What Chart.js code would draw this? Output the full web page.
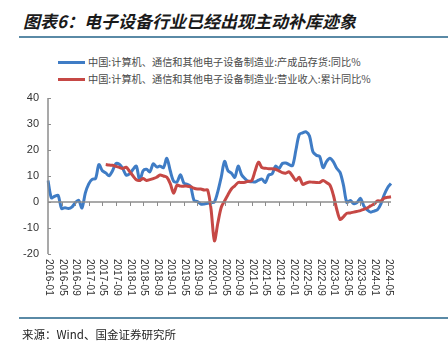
<!DOCTYPE html>
<html><head><meta charset="utf-8">
<script src="https://cdn.jsdelivr.net/npm/chart.js@4/dist/chart.umd.min.js"></script>
<style>
html,body{margin:0;padding:0;background:#fff;width:448px;height:351px;overflow:hidden;}
#wrap{position:relative;width:448px;height:351px;}
#title{position:absolute;left:23px;top:10px;font-family:"Noto Sans CJK SC";font-weight:bold;font-style:italic;font-size:17px;color:#1a1a1a;white-space:nowrap;line-height:22px;}
.rule{position:absolute;left:19px;width:429px;height:2px;background:#5a8aa6;}
#source{position:absolute;left:22px;top:326px;font-family:"Noto Sans CJK SC";font-size:11.5px;color:#222;white-space:nowrap;line-height:16px;}
.leg{position:absolute;left:58px;font-family:"Noto Sans CJK SC";font-size:10.2px;color:#4a4a4a;white-space:nowrap;line-height:14px;}
.leg span.sw{display:inline-block;width:27px;height:3px;vertical-align:middle;margin-right:3px;position:relative;top:-1px;}
canvas{position:absolute;left:0;top:0;}
</style></head>
<body><div id="wrap">
<div id="title">图表6：电子设备行业已经出现主动补库迹象</div>
<div class="rule" style="top:36px"></div>
<div class="leg" style="top:55px"><span class="sw" style="background:#3f7cc5"></span>中国:计算机、通信和其他电子设备制造业:产成品存货:同比%</div>
<div class="leg" style="top:72px"><span class="sw" style="background:#c64845"></span>中国:计算机、通信和其他电子设备制造业:营业收入:累计同比%</div>
<canvas id="c" width="448" height="351"></canvas>
<div class="rule" style="top:317px"></div>
<div id="source">来源：Wind、国金证券研究所</div>
</div>
<script>
const seriesNames = ["中国:计算机、通信和其他电子设备制造业:产成品存货:同比%","中国:计算机、通信和其他电子设备制造业:营业收入:累计同比%"];
const months = [];
for (let y = 2016; y <= 2024; y++) for (let m = 1; m <= 12; m++) { if (y === 2024 && m > 6) break; months.push(y + "-" + String(m).padStart(2, "0")); }
const yTicks = [-20,-10,0,10,20,30,40];
const inventoryYoY = [8.3,1.6,2.2,2.5,-2.5,-2.2,-2.5,-2.0,-0.3,0.7,-2.3,3.5,
 7.0,8.7,9.0,14.4,12.0,11.2,10.1,12.0,14.8,14.5,12.9,10.4,
 10.8,12.5,13.8,8.3,12.0,12.6,11.6,14.7,13.5,13.8,13.2,16.8,
 12.0,8.0,7.7,10.5,7.3,6.8,5.9,0.6,0.2,-0.8,-0.8,-0.5,
 -0.2,0.0,4.0,9.5,15.6,12.0,11.1,9.5,13.8,10.5,9.0,7.9,
 7.8,7.7,8.4,8.8,7.5,10.4,10.8,13.8,12.8,14.8,15.0,14.4,
 14.0,20.0,26.0,26.6,27.0,25.4,19.3,18.0,17.5,13.2,15.5,16.8,
 15.5,13.0,11.4,6.5,-0.2,0.6,-0.6,-0.2,1.4,-1.5,-3.0,-3.9,
 -3.5,-3.0,-0.8,2.8,5.5,7.1];
const revenueCumYoY = [null,null,null,null,null,null,null,null,null,null,null,null,
 null,null,null,null,null,14.4,14.2,14.1,13.7,13.3,12.9,13.4,
 11.8,10.1,8.6,8.3,9.0,8.3,8.6,9.0,9.5,10.4,10.0,9.5,
 7.1,3.4,6.5,6.1,6.1,6.1,5.9,5.3,5.0,5.0,4.6,4.6,
 -2.7,-14.9,-8.2,-2.1,0.4,2.8,5.0,6.2,7.5,7.5,7.6,8.0,
 8.2,12.0,15.3,13.2,13.0,12.8,12.8,12.6,12.0,11.3,11.1,11.6,
 10.0,8.3,9.5,6.8,7.3,7.7,7.6,7.5,7.5,8.3,7.5,6.5,
 2.8,-2.7,-6.7,-5.7,-4.3,-4.2,-3.9,-3.6,-3.3,-2.8,-2.3,-1.5,
 -0.8,0.4,0.4,1.5,1.8,2.0];

const axisPlugin = {
  id: 'axisExtras',
  afterDraw(chart) {
    const ctx = chart.ctx, xs = chart.scales.x, ys = chart.scales.y;
    const y0 = ys.getPixelForValue(0);
    ctx.save();
    ctx.strokeStyle = '#8c8c8c'; ctx.lineWidth = 1.5;
    ctx.beginPath(); ctx.moveTo(xs.left, y0); ctx.lineTo(xs.right, y0); ctx.stroke();
    ctx.beginPath(); ctx.moveTo(xs.left, ys.top); ctx.lineTo(xs.left, ys.bottom); ctx.stroke();
    ctx.lineWidth = 1;
    yTicks.forEach(v => { const py = Math.round(ys.getPixelForValue(v)) + 0.5; ctx.beginPath(); ctx.moveTo(xs.left, py); ctx.lineTo(xs.left + 3, py); ctx.stroke(); });
    ctx.fillStyle = '#333'; ctx.font = '10px "Liberation Sans", Arial, sans-serif';
    months.forEach((lab, i) => {
      if (i % 4 !== 0) return;
      const px = Math.round(xs.getPixelForValue(i)) + 0.5;
      if (i > 0) { ctx.beginPath(); ctx.moveTo(px, y0); ctx.lineTo(px, y0 + 4); ctx.stroke(); }
      ctx.save();
      ctx.translate(px, ys.bottom + 5);
      ctx.rotate(Math.PI / 2);
      ctx.textAlign = 'left'; ctx.textBaseline = 'middle';
      ctx.fillText(lab, 0, 0);
      ctx.restore();
    });
    ctx.restore();
  }
};

new Chart(document.getElementById('c'), {
  type: 'line',
  data: {
    labels: months,
    datasets: [
      { label: seriesNames[0], data: inventoryYoY, borderColor: '#3f7cc5', backgroundColor: '#3f7cc5', borderWidth: 3, pointRadius: 0, tension: 0.3, order: 2 },
      { label: seriesNames[1], data: revenueCumYoY, borderColor: '#c64845', backgroundColor: '#c64845', borderWidth: 3, pointRadius: 0, tension: 0.3, order: 1 }
    ]
  },
  options: {
    responsive: false, animation: false,
    layout: { padding: { left: 0, top: 98, right: 57, bottom: 89 } },
    plugins: { legend: { display: false }, tooltip: { enabled: false } },
    scales: {
      x: { type: 'category', offset: false, display: true, grid: { display: false }, border: { display: false }, ticks: { display: false } },
      y: {
        min: -20, max: 40,
        afterFit(s) { s.width = 48; },
        afterBuildTicks(s) { s.ticks = yTicks.map(v => ({ value: v })); },
        grid: { display: false, drawTicks: false },
        border: { display: false },
        ticks: { color: '#333', font: { family: '"Liberation Sans", Arial, sans-serif', size: 11 }, padding: 9 }
      }
    }
  },
  plugins: [axisPlugin]
});
</script>
</body></html>
